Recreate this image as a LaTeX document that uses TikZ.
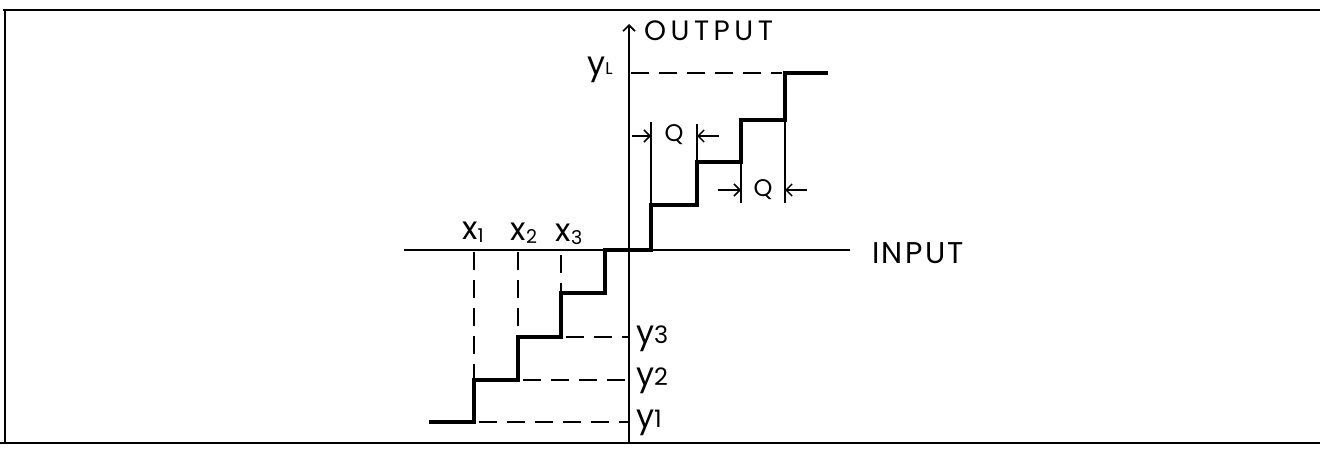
\documentclass[tikz,border=0pt]{standalone}
\usepackage{fontspec}
\setmainfont{Poppins}
\usetikzlibrary{arrows.meta}
\newfontfamily\wideA[LetterSpace=16]{Poppins}
\newfontfamily\wideB[LetterSpace=8]{Poppins}
\newcommand{\dig}[1]{{\fontsize{24}{24}\selectfont #1}}
\newcommand{\subdig}[1]{\raisebox{-3pt}{\fontsize{19}{19}\selectfont #1}}
\begin{document}
\begin{tikzpicture}[x=1pt,y=-1pt,
  frame/.style={line width=2pt},
  axis/.style={line width=1.6pt},
  stair/.style={line width=3.2pt, line join=miter},
  guide/.style={line width=1.5pt, dash pattern=on 18pt off 10pt},
  qtick/.style={line width=1.5pt},
  dim/.style={line width=1.5pt, -{Straight Barb[length=6pt,width=12pt,line width=1.5pt]}},
  lab/.style={inner sep=0pt, font=\fontsize{32}{32}\selectfont},
  big/.style={inner sep=0pt},
  qlab/.style={inner sep=0pt, font=\fontsize{24}{24}\selectfont},
]
\useasboundingbox (0,0) rectangle (1320,450);
% frame
\draw[frame] (3,10) -- (1320,10);
\draw[line width=1.5pt] (5,10) -- (5,443);
\draw[frame] (0,443) -- (1320,443);

% axes
\coordinate (otop) at (629,24);
\coordinate (obot) at (629,443);
\coordinate (ileft) at (404,250);
\coordinate (iright) at (850,250);
\draw[axis,-{Straight Barb[length=6pt,width=12pt,line width=1.6pt]}] (obot) -- (otop);
\draw[axis] (ileft) -- (iright);
\node[big, anchor=west, font=\wideA\fontsize{28}{28}\selectfont] (out) at (644,31) {OUTPUT};
\node[big, anchor=west, font=\wideB\fontsize{30}{30}\selectfont] (in) at (872,253) {INPUT};

% staircase
\draw[stair] (429,422) -- (474,422) -- (474,380) -- (518,380) -- (518,337)
  -- (561,337) -- (561,293) -- (605,293) -- (605,250) -- (651,250)
  -- (651,205) -- (697,205) -- (697,162) -- (741,162) -- (741,120)
  -- (785,120) -- (785,73) -- (828,73);

% guide lines
\draw[guide] (474,252) -- (474,380);
\draw[guide] (518,252) -- (518,337);
\draw[guide] (561,255) -- (561,293);
\draw[guide] (479,422) -- (629,422);
\draw[guide] (523,380) -- (629,380);
\draw[guide] (566,337) -- (629,337);
\draw[guide] (631,73) -- (782,73);

% Q dimension ticks
\draw[qtick] (651,122) -- (651,205);
\draw[qtick] (697,124) -- (697,162);
\draw[qtick] (741,162) -- (741,203);
\draw[qtick] (785,120) -- (785,203);

\coordinate (qa1) at (632,136); \coordinate (qa2) at (651,136);
\coordinate (qb1) at (719,136); \coordinate (qb2) at (697,136);
\draw[dim] (qa1) -- (qa2);
\draw[dim] (qb1) -- (qb2);
\node[qlab] (q1) at (674,135) {Q};
\coordinate (qc1) at (718,190); \coordinate (qc2) at (741,190);
\coordinate (qd1) at (807,190); \coordinate (qd2) at (785,190);
\draw[dim] (qc1) -- (qc2);
\draw[dim] (qd1) -- (qd2);
\node[qlab] (q2) at (763,190) {Q};

% labels
\node[lab, anchor=east] (yL) at (613,70) {y{\fontsize{17}{17}\selectfont L}};
\node[lab, anchor=west] (y3) at (636,339) {y\dig{3}};
\node[lab, anchor=west] (y2) at (636,381) {y\dig{2}};
\node[lab, anchor=west] (y1) at (636,423) {y\dig{1}};
\node[lab] (x1) at (473,232) {x\subdig{1}};
\node[lab] (x2) at (524,233) {x\subdig{2}};
\node[lab] (x3) at (569,234) {x\subdig{3}};
\end{tikzpicture}
\end{document}
